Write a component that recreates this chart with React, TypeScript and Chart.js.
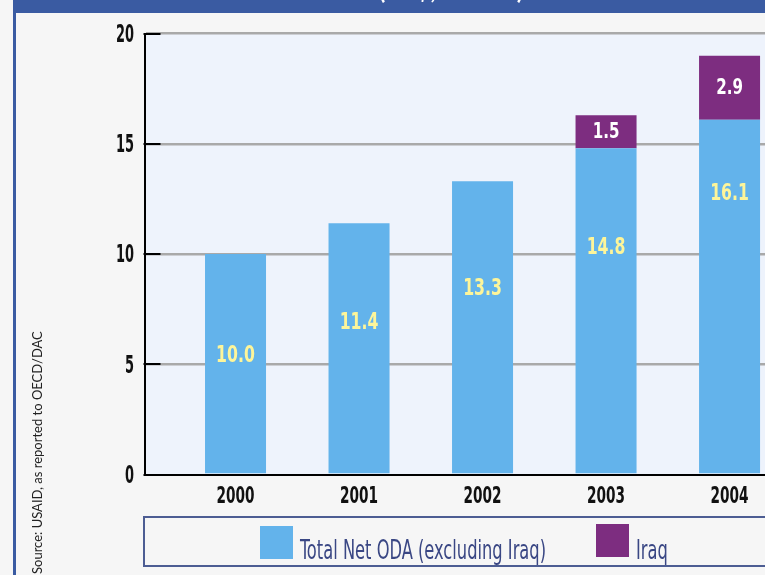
import React, { useEffect, useRef } from "react";
import { Chart, registerables } from "chart.js";

Chart.register(...registerables);

// ---- data ----
const years = [2000, 2001, 2002, 2003, 2004];
const odaExIraq = [10.0, 11.4, 13.3, 14.8, 16.1];
const iraq: (number | null)[] = [null, null, null, 1.5, 2.9];
const yTickValues = [0, 5, 10, 15, 20];
const odaLabelAnchors = [5.4, 6.9, 8.45, 10.3, 12.75];
const seriesNames = ["Total Net ODA (excluding Iraq)", "Iraq"];
const sourceText = "Source: USAID, as reported to OECD/DAC";
const headerText = "(US$, billions)";

const NARROW = "'Liberation Sans Narrow', 'DejaVu Sans Condensed', sans-serif";

const W = 765;
const H = 575;

function squished(ctx: CanvasRenderingContext2D, text: string, x: number, y: number, align: CanvasTextAlign, sx: number) {
  ctx.save();
  ctx.translate(x, y);
  ctx.scale(sx, 1);
  ctx.textAlign = align;
  ctx.fillText(text, 0, 0);
  ctx.restore();
}

export default function App() {
  const ref = useRef<HTMLCanvasElement | null>(null);

  useEffect(() => {
    const canvas = ref.current;
    if (!canvas) return;

    const decorPlugin = {
      id: "decor",
      beforeDraw(chart: any) {
        const { ctx, chartArea } = chart;
        ctx.save();
        ctx.fillStyle = "#f6f6f6";
        ctx.fillRect(0, 0, W, H);
        // plot background
        ctx.fillStyle = "#eef3fc";
        ctx.fillRect(chartArea.left, chartArea.top, chartArea.right - chartArea.left, chartArea.bottom - chartArea.top);
        // header band and left border
        ctx.fillStyle = "#3a5ba2";
        ctx.fillRect(13, 0, W - 13, 13);
        ctx.fillRect(13, 0, 3, H);
        // header text (mostly cut off)
        ctx.fillStyle = "#ffffff";
        ctx.font = "bold 24px Lato, sans-serif";
        ctx.textAlign = "center";
        ctx.textBaseline = "alphabetic";
        ctx.fillText(headerText, 451, -1);
        // source text rotated
        ctx.translate(38, 574);
        ctx.rotate(-Math.PI / 2);
        ctx.fillStyle = "#222222";
        ctx.font = "13px Lato, sans-serif";
        ctx.textAlign = "left";
        ctx.textBaseline = "middle";
        ctx.fillText(sourceText, 0, 0);
        ctx.restore();
      },
      afterDatasetsDraw(chart: any) {
        const { ctx } = chart;
        const yScale = chart.scales.y;
        ctx.save();
        ctx.textBaseline = "middle";
        chart.data.datasets.forEach((ds: any, di: number) => {
          const meta = chart.getDatasetMeta(di);
          meta.data.forEach((el: any, i: number) => {
            const raw = ds.data[i];
            if (!raw || raw.y == null) return;
            let y: number;
            let sx: number;
            if (di === 0) {
              const idx = years.indexOf(raw.x);
              y = yScale.getPixelForValue(odaLabelAnchors[idx]);
              ctx.fillStyle = "#fdf59a";
              ctx.font = `bold 23px ${NARROW}`;
              sx = 0.76;
            } else {
              y = (el.y + el.base) / 2;
              ctx.fillStyle = "#ffffff";
              ctx.font = `bold 21px ${NARROW}`;
              sx = 0.8;
            }
            squished(ctx, raw.y.toFixed(1), el.x, y + 1, "center", sx);
          });
        });
        ctx.restore();
      },
      afterDraw(chart: any) {
        const { ctx, chartArea } = chart;
        const yScale = chart.scales.y;
        const xScale = chart.scales.x;
        ctx.save();
        // black inner tick marks
        ctx.strokeStyle = "#000000";
        ctx.lineWidth = 2;
        yScale.ticks.forEach((t: any) => {
          const py = Math.round(yScale.getPixelForValue(t.value));
          ctx.beginPath();
          ctx.moveTo(chartArea.left - 1, py);
          ctx.lineTo(chartArea.left + 16, py);
          ctx.stroke();
        });
        // y tick labels
        ctx.fillStyle = "#111111";
        ctx.font = `bold 24px ${NARROW}`;
        ctx.textBaseline = "middle";
        yScale.ticks.forEach((t: any) => {
          squished(ctx, String(t.value), 134, yScale.getPixelForValue(t.value) + 2, "right", 0.6);
        });
        // x tick labels
        ctx.font = `bold 23px ${NARROW}`;
        ctx.textBaseline = "alphabetic";
        xScale.ticks.forEach((t: any) => {
          squished(ctx, String(t.value), xScale.getPixelForValue(t.value), 503, "center", 0.66);
        });
        // legend box
        ctx.strokeStyle = "#4d5d93";
        ctx.lineWidth = 2;
        ctx.strokeRect(144, 517, 700, 49);
        // legend items
        ctx.font = `26px ${NARROW}`;
        const firstW = ctx.measureText(chart.data.datasets[0].label).width;
        const sx = Math.min(1, 246 / firstW);
        let x = 260;
        const boxTops = [526, 524];
        chart.data.datasets.forEach((ds: any, i: number) => {
          ctx.fillStyle = ds.backgroundColor;
          ctx.fillRect(x, boxTops[i], 33, 33);
          x += 33 + 7;
          ctx.fillStyle = "#3a4784";
          ctx.textBaseline = "alphabetic";
          squished(ctx, ds.label, x, 559, "left", sx);
          x += ctx.measureText(ds.label).width * sx + 50;
        });
        ctx.restore();
      },
    };

    const chart = new Chart(canvas, {
      type: "bar",
      data: {
        datasets: [
          {
            label: seriesNames[0],
            data: years.map((x, i) => ({ x, y: odaExIraq[i] })),
            backgroundColor: "#63b3eb",
            borderWidth: 0,
            barPercentage: 0.494,
            categoryPercentage: 1,
          },
          {
            label: seriesNames[1],
            data: years
              .map((x, i) => ({ x, y: iraq[i] }))
              .filter((d) => d.y != null) as any,
            backgroundColor: "#7d2d80",
            borderWidth: 0,
            barPercentage: 0.494,
            categoryPercentage: 1,
          },
        ],
      },
      options: {
        responsive: false,
        animation: false,
        devicePixelRatio: 1,
        events: [],
        layout: { padding: { top: 33.7, left: 0, right: 0, bottom: 0 } },
        plugins: {
          legend: { display: false },
          tooltip: { enabled: false },
          title: { display: false },
        },
        scales: {
          x: {
            type: "linear",
            stacked: true,
            offset: false,
            bounds: "data",
            min: 1999.263,
            max: 2004.287,
            grid: { display: false, offset: false },
            border: { display: true, color: "#000000", width: 2 },
            afterBuildTicks: (scale: any) => {
              scale.ticks = years.map((v) => ({ value: v }));
            },
            afterFit: (scale: any) => {
              scale.height = 100.5;
            },
            ticks: { display: false },
          },
          y: {
            stacked: true,
            min: 0,
            max: 20,
            afterBuildTicks: (scale: any) => {
              scale.ticks = yTickValues.map((v) => ({ value: v }));
            },
            afterFit: (scale: any) => {
              scale.width = 144.5;
            },
            grid: {
              drawTicks: false,
              lineWidth: 2.5,
              color: (c: any) => (c.tick && c.tick.value === 0 ? "rgba(0,0,0,0)" : "#a9a9a9"),
            },
            border: { display: true, color: "#000000", width: 2 },
            ticks: { display: false },
          },
        },
      } as any,
      plugins: [decorPlugin],
    });

    return () => chart.destroy();
  }, []);

  return (
    <div style={{ position: "fixed", left: 0, top: 0, width: W, height: H, overflow: "hidden", background: "#f6f6f6" }}>
      <canvas ref={ref} width={W} height={H} style={{ display: "block", width: W, height: H }} />
    </div>
  );
}
